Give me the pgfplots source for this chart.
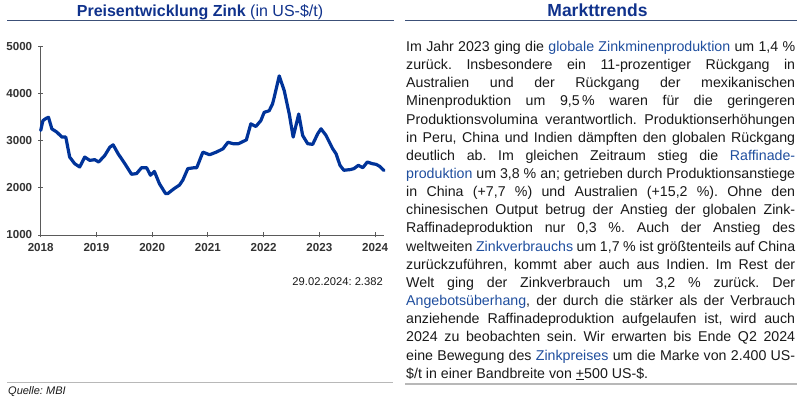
\documentclass[border=0pt]{standalone}
\usepackage{fontspec}
\setmainfont{Liberation Sans}
\usepackage{pgfplots}
\pgfplotsset{compat=1.18}
\definecolor{zinc}{RGB}{0,51,153}
\definecolor{ttl}{RGB}{16,50,140}
\definecolor{lnk}{RGB}{31,78,158}
\definecolor{rulec}{RGB}{60,80,120}
\definecolor{txt}{RGB}{25,25,25}
\definecolor{axc}{RGB}{90,90,90}
\newcommand\jl[1]{\makebox[389pt][s]{#1}}
\newcommand\lk[1]{\textcolor{lnk}{#1}}
\frenchspacing
\begin{document}
\begin{tikzpicture}
\useasboundingbox (0pt,0pt) rectangle (800pt,398pt);
% titles
\node[anchor=base, text=ttl, font=\fontsize{16}{18}\selectfont, inner sep=0] at (200pt,381pt) {\textbf{Preisentwicklung Zink} (in US-\$/t)};
\node[anchor=base, text=ttl, font=\fontsize{17.5}{20}\selectfont\bfseries, inner sep=0] at (597.5pt,381.3pt) {Markttrends};
\draw[rulec, line width=1.2pt] (7pt,377.3pt) -- (394pt,377.3pt);
\draw[rulec, line width=1.2pt] (405pt,377.3pt) -- (797pt,377.3pt);
\draw[black!28, line width=1.3pt] (7pt,15.3pt) -- (393pt,15.3pt);
\draw[black!28, line width=1.3pt] (405pt,14pt) -- (797pt,14pt);
\node[anchor=base west, font=\fontsize{11}{13}\selectfont\itshape, inner sep=0, text=txt] at (8pt,3pt) {Quelle: MBI};
\node[anchor=base east, font=\fontsize{11.2}{13}\selectfont, inner sep=0, text=txt] at (383pt,112.5pt) {29.02.2024: 2.382};
% body text
\begin{scope}[every node/.style={anchor=base west, inner sep=0, text=txt, font=\fontsize{14.2}{17}\selectfont}]
\node at (406pt,346.5pt) {\jl{Im Jahr 2023 ging die \lk{globale Zinkminenproduktion} um 1,4 \%}};
\node at (406pt,328.35pt) {\jl{zurück. Insbesondere ein 11-prozentiger Rückgang in}};
\node at (406pt,310.2pt) {\jl{Australien und der Rückgang der mexikanischen}};
\node at (406pt,292.05pt) {\jl{Minenproduktion um 9,5\,\% waren für die geringeren}};
\node at (406pt,273.9pt) {\jl{Produktionsvolumina verantwortlich. Produktionserhöhungen}};
\node at (406pt,255.75pt) {\jl{in Peru, China und Indien dämpften den globalen Rückgang}};
\node at (406pt,237.6pt) {\jl{deutlich ab. Im gleichen Zeitraum stieg die \lk{Raffinade-}}};
\node at (406pt,219.45pt) {\jl{\lk{produktion} um 3,8 \% an; getrieben durch Produktionsanstiege}};
\node at (406pt,201.3pt) {\jl{in China (+7,7 \%) und Australien (+15,2 \%). Ohne den}};
\node at (406pt,183.15pt) {\jl{chinesischen Output betrug der Anstieg der globalen Zink-}};
\node at (406pt,165.0pt) {\jl{Raffinadeproduktion nur 0,3 \%. Auch der Anstieg des}};
\node at (406pt,146.85pt) {\jl{weltweiten \lk{Zinkverbrauchs} um 1,7 \% ist größtenteils auf China}};
\node at (406pt,128.7pt) {\jl{zurückzuführen, kommt aber auch aus Indien. Im Rest der}};
\node at (406pt,110.55pt) {\jl{Welt ging der Zinkverbrauch um 3,2 \% zurück. Der}};
\node at (406pt,92.4pt) {\jl{\lk{Angebotsüberhang}, der durch die stärker als der Verbrauch}};
\node at (406pt,74.25pt) {\jl{anziehende Raffinadeproduktion aufgelaufen ist, wird auch}};
\node at (406pt,56.1pt) {\jl{2024 zu beobachten sein. Wir erwarten bis Ende Q2 2024}};
\node at (406pt,37.95pt) {\jl{eine Bewegung des \lk{Zinkpreises} um die Marke von 2.400 US-}};
\node at (406pt,19.8pt) {\$/t in einer Bandbreite von \underline{+}500 US-\$.};
\end{scope}
\begin{axis}[
  at={(40.7pt,163pt)}, anchor=south west,
  scale only axis, width=343.3pt, height=188.3pt,
  xmin=2018, xmax=2024.16, ymin=1000, ymax=5000,
  axis x line=bottom, axis y line=left,
  axis line style={-, draw=axc, line width=0.9pt},
  xtick={2018,2019,2020,2021,2022,2023,2024},
  ytick={1000,2000,3000,4000,5000},
  tick align=center, major tick length=5pt,
  tick style={draw=axc, line width=0.9pt},
  /pgf/number format/1000 sep={},
  /pgf/number format/assume math mode=true,
  ticklabel style={font=\fontsize{11.6}{13}\selectfont\bfseries, text=black!80},
  xticklabel style={yshift=-2.5pt},
  yticklabel style={xshift=-2.5pt},
  clip=false,
]
\addplot[zinc, line width=3.2pt, line join=round, line cap=round] coordinates {
(2018.00,3220) (2018.04,3430) (2018.10,3480) (2018.14,3500) (2018.20,3255)
(2018.29,3185) (2018.38,3080) (2018.45,3080) (2018.52,2655) (2018.61,2515)
(2018.70,2445) (2018.79,2655) (2018.88,2585) (2018.97,2600) (2019.04,2550)
(2019.15,2690) (2019.24,2865) (2019.30,2915) (2019.39,2725) (2019.51,2515)
(2019.63,2290) (2019.72,2305) (2019.81,2430) (2019.90,2430) (2019.97,2270)
(2020.04,2350) (2020.13,2090) (2020.24,1880) (2020.28,1880) (2020.40,1990)
(2020.49,2060) (2020.55,2165) (2020.64,2410) (2020.76,2430) (2020.80,2430)
(2020.91,2760) (2021.03,2705) (2021.15,2760) (2021.27,2830) (2021.36,2970)
(2021.45,2940) (2021.55,2940) (2021.69,3020) (2021.77,3360) (2021.86,3305)
(2021.95,3430) (2022.01,3605) (2022.10,3640) (2022.16,3785) (2022.19,3925)
(2022.28,4380) (2022.37,4065) (2022.46,3570) (2022.53,3080) (2022.63,3570)
(2022.70,3115) (2022.79,2940) (2022.88,2925) (2022.97,3150) (2023.03,3255)
(2023.12,3115) (2023.24,2830) (2023.30,2725) (2023.37,2480) (2023.44,2375)
(2023.56,2390) (2023.62,2410) (2023.70,2480) (2023.78,2430) (2023.86,2550)
(2023.95,2515) (2024.02,2500) (2024.08,2460) (2024.16,2370)
};
\end{axis}
\end{tikzpicture}
\end{document}
